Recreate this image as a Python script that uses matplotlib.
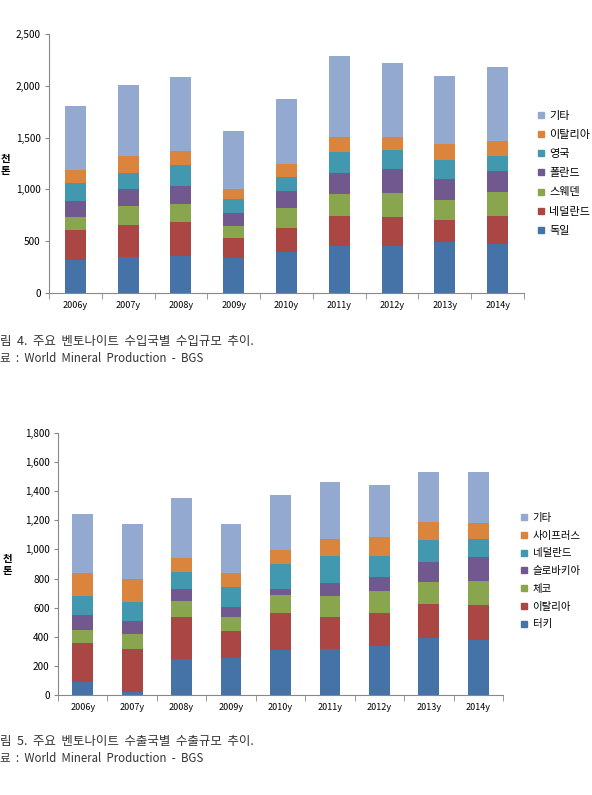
import matplotlib.pyplot as plt
from matplotlib.lines import Line2D
import numpy as np

plt.rcParams['font.family'] = ['Noto Sans CJK KR', 'DejaVu Sans']

years = ['2006y', '2007y', '2008y', '2009y', '2010y', '2011y', '2012y', '2013y', '2014y']

# 수입 (thousand tonnes)
imp_names = ['독일', '네덜란드', '스웨덴', '폴란드', '영국', '이탈리아', '기타']
imp_germany = [321, 350, 360, 341, 392, 450, 450, 492, 476]
imp_netherlands = [283, 309, 321, 186, 231, 289, 283, 215, 263]
imp_sweden = [129, 183, 174, 122, 196, 219, 231, 193, 235]
imp_poland = [151, 164, 173, 122, 161, 205, 231, 205, 199]
imp_uk = [176, 151, 209, 138, 138, 199, 187, 174, 151]
imp_italy = [123, 167, 138, 97, 129, 145, 128, 161, 148]
imp_other = [626, 684, 714, 556, 623, 781, 714, 655, 713]

# 수출 (thousand tonnes)
exp_names = ['터키', '이탈리아', '체코', '슬로바키아', '네덜란드', '사이프러스', '기타']
exp_turkey = [90, 21, 250, 253, 308, 317, 335, 393, 377]
exp_italy = [268, 296, 287, 186, 257, 216, 230, 229, 238]
exp_czech = [87, 101, 108, 98, 121, 149, 151, 156, 170]
exp_slovakia = [104, 92, 81, 69, 40, 85, 97, 138, 161]
exp_netherlands = [131, 128, 119, 133, 172, 188, 142, 149, 124]
exp_cyprus = [160, 161, 94, 97, 98, 115, 133, 124, 115]
exp_other = [402, 374, 416, 337, 377, 390, 356, 345, 349]

colors = ['#4572A7', '#AA4643', '#89A54E', '#71588F', '#4198AF', '#DB843D', '#93A9CF']

fig = plt.figure(figsize=(5.92, 7.95), dpi=100)


def draw(rect, series, names, ymax, ystep, bar_w, leg_anchor, leg_fs, leg_sp):
    ax = fig.add_axes(rect)
    x = np.arange(len(years))
    bottom = np.zeros(len(years))
    for vals, c in zip(series, colors):
        ax.bar(x, vals, bar_w, bottom=bottom, color=c, linewidth=0)
        bottom += np.array(vals)
    ax.set_xlim(-0.5, len(years) - 0.5)
    ax.set_ylim(0, ymax)
    yt = np.arange(0, ymax + 1, ystep)
    ax.set_yticks(yt)
    ax.set_yticklabels([f'{v:,}' for v in yt], fontsize=7.2)
    ax.set_xticks(x)
    ax.set_xticklabels(years, fontsize=6.5)
    ax.set_xticks(np.arange(-0.5, len(years)), minor=True)
    ax.tick_params(axis='x', which='major', length=0, pad=6)
    ax.tick_params(axis='x', which='minor', length=4, color='#888888')
    ax.tick_params(axis='y', length=3, color='#888888', pad=3)
    for s in ['top', 'right']:
        ax.spines[s].set_visible(False)
    for s in ['left', 'bottom']:
        ax.spines[s].set_color('#888888')
        ax.spines[s].set_linewidth(0.8)
    handles = [Line2D([], [], marker='s', linestyle='none', markersize=4.5,
                      color=c) for c in colors]
    fig.legend(handles[::-1], names[::-1], loc='upper left',
               bbox_to_anchor=leg_anchor, frameon=False, fontsize=leg_fs,
               labelspacing=leg_sp, handletextpad=0.3, borderpad=0,
               borderaxespad=0, handlelength=1.0)
    return ax


draw([49 / 592, 1 - 293 / 795, 475 / 592, 259 / 795],
     [imp_germany, imp_netherlands, imp_sweden, imp_poland, imp_uk, imp_italy, imp_other],
     imp_names, 2500, 500, 0.4, (535 / 592, 1 - 111 / 795), 8, 0.82)

draw([58 / 592, 1 - 695 / 795, 445 / 592, 262 / 795],
     [exp_turkey, exp_italy, exp_czech, exp_slovakia, exp_netherlands, exp_cyprus, exp_other],
     exp_names, 1800, 200, 0.42, (519 / 592, 1 - 513 / 795), 7.5, 0.74)

# y-axis unit labels
fig.text(5 / 592, 1 - 165 / 795, '천\n톤', fontsize=7.5, fontweight='bold',
         ha='center', va='center', linespacing=1.3)
fig.text(7 / 592, 1 - 565 / 795, '천\n톤', fontsize=7.5, fontweight='bold',
         ha='center', va='center', linespacing=1.3)

# captions
cap = dict(ha='left', va='center', color='#333333')
fig.text(0, 1 - 342 / 795, '림  4.  주요  벤토나이트  수입국별  수입규모  추이.', fontsize=9, **cap)
fig.text(0, 1 - 359 / 795, '료  :  World  Mineral  Production  -  BGS', fontsize=8.3, **cap)
fig.text(0, 1 - 742 / 795, '림  5.  주요  벤토나이트  수출국별  수출규모  추이.', fontsize=9, **cap)
fig.text(0, 1 - 759 / 795, '료  :  World  Mineral  Production  -  BGS', fontsize=8.3, **cap)

fig.savefig('out.png', dpi=100)
